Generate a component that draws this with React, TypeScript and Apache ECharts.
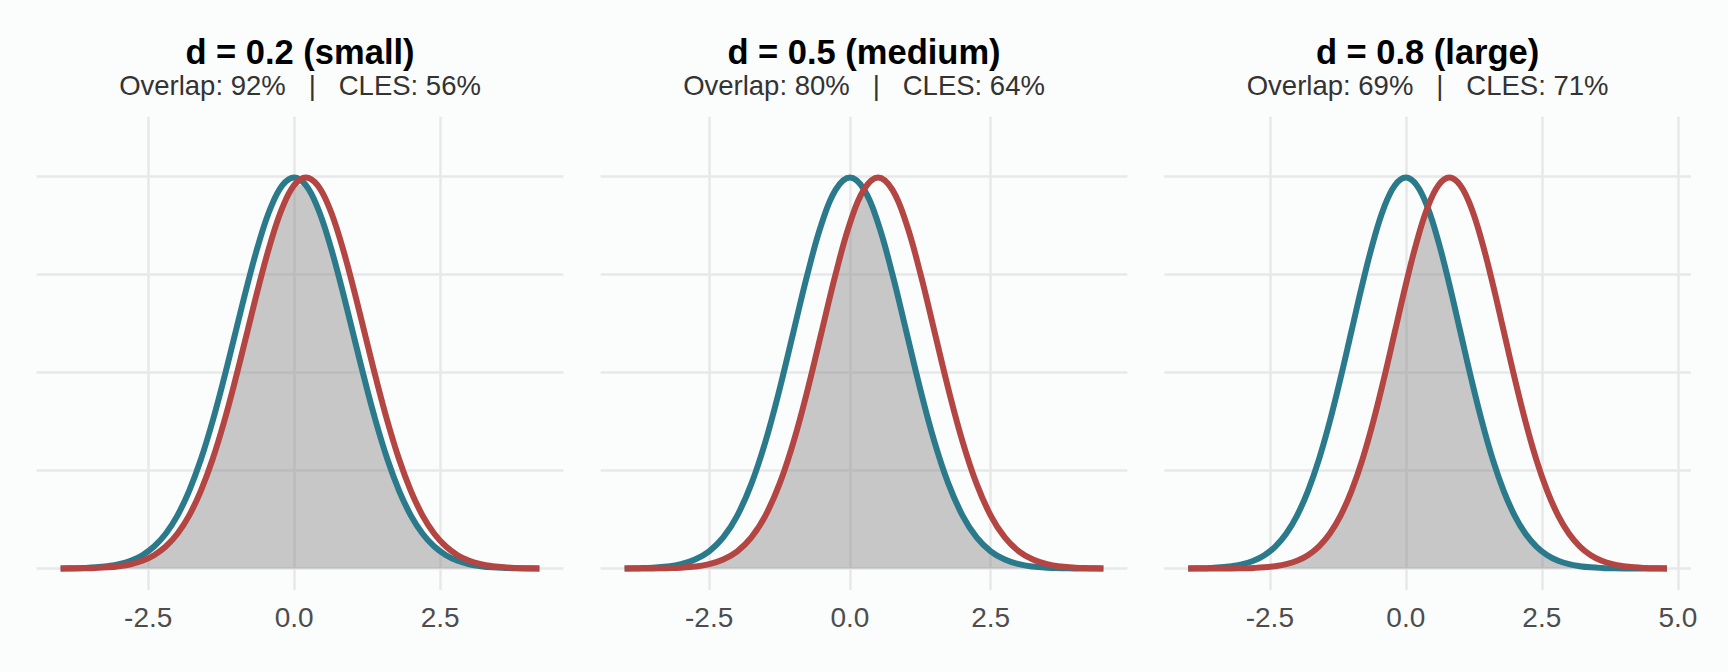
import React, { useEffect, useRef } from 'react';
import * as echarts from 'echarts';

// Panel headings
const panelTitles = ['d = 0.2 (small)', 'd = 0.5 (medium)', 'd = 0.8 (large)'];
const panelSubtitles = [
  'Overlap: 92%   |   CLES: 56%',
  'Overlap: 80%   |   CLES: 64%',
  'Overlap: 69%   |   CLES: 71%',
];

// x axis ranges (data range plus ggplot-style padding) and tick labels
const xRanges = [
  [-4.41, 4.61],
  [-4.425, 4.925],
  [-4.44, 5.24],
];
const xTicks = [
  [-2.5, 0, 2.5],
  [-2.5, 0, 2.5],
  [-2.5, 0, 2.5, 5],
];
const yTicks = [0, 0.1, 0.2, 0.3, 0.4];
const yRange = [-0.0219, 0.4608];

// d = 0.2
const x1 = [-4, -3.8, -3.6, -3.4, -3.2, -3, -2.8, -2.6, -2.4, -2.2, -2, -1.8, -1.6, -1.4, -1.2, -1, -0.8, -0.6, -0.4, -0.2,
  0, 0.2, 0.4, 0.6, 0.8, 1, 1.2, 1.4, 1.6, 1.8, 2, 2.2, 2.4, 2.6, 2.8, 3, 3.2, 3.4, 3.6, 3.8, 4, 4.2];
const blue1 = [0.0001, 0.0003, 0.0006, 0.0012, 0.0024, 0.0044, 0.0079, 0.0136, 0.0224, 0.0355, 0.0540, 0.0790, 0.1109, 0.1497, 0.1942, 0.2420, 0.2897, 0.3332, 0.3683, 0.3910,
  0.3989, 0.3910, 0.3683, 0.3332, 0.2897, 0.2420, 0.1942, 0.1497, 0.1109, 0.0790, 0.0540, 0.0355, 0.0224, 0.0136, 0.0079, 0.0044, 0.0024, 0.0012, 0.0006, 0.0003, 0.0001, 0.0001];
const red1 = [0.0001, 0.0001, 0.0003, 0.0006, 0.0012, 0.0024, 0.0044, 0.0079, 0.0136, 0.0224, 0.0355, 0.0540, 0.0790, 0.1109, 0.1497, 0.1942, 0.2420, 0.2897, 0.3332, 0.3683,
  0.3910, 0.3989, 0.3910, 0.3683, 0.3332, 0.2897, 0.2420, 0.1942, 0.1497, 0.1109, 0.0790, 0.0540, 0.0355, 0.0224, 0.0136, 0.0079, 0.0044, 0.0024, 0.0012, 0.0006, 0.0003, 0.0001];

// d = 0.5
const x2 = [-4, -3.75, -3.5, -3.25, -3, -2.75, -2.5, -2.25, -2, -1.75, -1.5, -1.25, -1, -0.75, -0.5, -0.25,
  0, 0.25, 0.5, 0.75, 1, 1.25, 1.5, 1.75, 2, 2.25, 2.5, 2.75, 3, 3.25, 3.5, 3.75, 4, 4.25, 4.5];
const blue2 = [0.0001, 0.0004, 0.0009, 0.0020, 0.0044, 0.0091, 0.0175, 0.0317, 0.0540, 0.0863, 0.1295, 0.1826, 0.2420, 0.3011, 0.3521, 0.3867,
  0.3989, 0.3867, 0.3521, 0.3011, 0.2420, 0.1826, 0.1295, 0.0863, 0.0540, 0.0317, 0.0175, 0.0091, 0.0044, 0.0020, 0.0009, 0.0004, 0.0001, 0.0000, 0.0000];
const red2 = [0.0000, 0.0000, 0.0001, 0.0004, 0.0009, 0.0020, 0.0044, 0.0091, 0.0175, 0.0317, 0.0540, 0.0863, 0.1295, 0.1826, 0.2420, 0.3011,
  0.3521, 0.3867, 0.3989, 0.3867, 0.3521, 0.3011, 0.2420, 0.1826, 0.1295, 0.0863, 0.0540, 0.0317, 0.0175, 0.0091, 0.0044, 0.0020, 0.0009, 0.0004, 0.0001];

// d = 0.8
const x3 = [-4, -3.8, -3.6, -3.4, -3.2, -3, -2.8, -2.6, -2.4, -2.2, -2, -1.8, -1.6, -1.4, -1.2, -1, -0.8, -0.6, -0.4, -0.2,
  0, 0.2, 0.4, 0.6, 0.8, 1, 1.2, 1.4, 1.6, 1.8, 2, 2.2, 2.4, 2.6, 2.8, 3, 3.2, 3.4, 3.6, 3.8, 4, 4.2, 4.4, 4.6, 4.8];
const blue3 = [0.0001, 0.0003, 0.0006, 0.0012, 0.0024, 0.0044, 0.0079, 0.0136, 0.0224, 0.0355, 0.0540, 0.0790, 0.1109, 0.1497, 0.1942, 0.2420, 0.2897, 0.3332, 0.3683, 0.3910,
  0.3989, 0.3910, 0.3683, 0.3332, 0.2897, 0.2420, 0.1942, 0.1497, 0.1109, 0.0790, 0.0540, 0.0355, 0.0224, 0.0136, 0.0079, 0.0044, 0.0024, 0.0012, 0.0006, 0.0003, 0.0001, 0.0001, 0.0000, 0.0000, 0.0000];
const red3 = [0.0000, 0.0000, 0.0000, 0.0001, 0.0001, 0.0003, 0.0006, 0.0012, 0.0024, 0.0044, 0.0079, 0.0136, 0.0224, 0.0355, 0.0540, 0.0790, 0.1109, 0.1497, 0.1942, 0.2420,
  0.2897, 0.3332, 0.3683, 0.3910, 0.3989, 0.3910, 0.3683, 0.3332, 0.2897, 0.2420, 0.1942, 0.1497, 0.1109, 0.0790, 0.0540, 0.0355, 0.0224, 0.0136, 0.0079, 0.0044, 0.0024, 0.0012, 0.0006, 0.0003, 0.0001];

const panels = [
  { x: x1, blue: blue1, red: red1 },
  { x: x2, blue: blue2, red: red2 },
  { x: x3, blue: blue3, red: red3 },
];

const BLUE = '#2B7A8B';
const RED = '#B34543';
const GRID = '#E8E8E8';
const FONT = '"Liberation Sans", Arial, Helvetica, sans-serif';

const App: React.FC = () => {
  const chartRef = useRef<HTMLDivElement>(null);

  useEffect(() => {
    document.body.style.margin = '0';
    if (!chartRef.current) return;
    const chart = echarts.init(chartRef.current, null, { renderer: 'svg' });

    const panelLefts = [36.7, 600.7, 1164.3];
    const panelWidth = 526.6;
    const panelTop = 116.7;
    const panelHeight = 473.3;

    const grids = panelLefts.map(left => ({
      left,
      top: panelTop,
      width: panelWidth,
      height: panelHeight,
    }));

    const xAxes = panels.map((_, i) => ({
      type: 'value',
      gridIndex: i,
      min: xRanges[i][0],
      max: xRanges[i][1],
      axisLine: { show: false },
      axisTick: { show: false, customValues: xTicks[i] },
      axisLabel: {
        customValues: xTicks[i],
        formatter: (v: number) => v.toFixed(1),
        color: '#4D4D4D',
        fontSize: 28,
        fontFamily: FONT,
        margin: 13,
      },
      splitLine: { show: true, lineStyle: { color: GRID, width: 2.5 } },
    }));

    const yAxes = panels.map((_, i) => ({
      type: 'value',
      gridIndex: i,
      min: yRange[0],
      max: yRange[1],
      axisLine: { show: false },
      axisTick: { show: false, customValues: yTicks },
      axisLabel: { show: false, customValues: yTicks },
      splitLine: { show: true, lineStyle: { color: GRID, width: 2.5 } },
    }));

    const series: any[] = [];
    panels.forEach((p, i) => {
      // shaded overlap = lower of the two densities
      series.push({
        type: 'line',
        xAxisIndex: i,
        yAxisIndex: i,
        data: p.x.map((v, k) => [v, Math.min(p.blue[k], p.red[k])]),
        smooth: 0.4,
        symbol: 'none',
        lineStyle: { width: 0 },
        areaStyle: { color: 'rgba(127,127,127,0.42)', opacity: 1 },
        z: 2,
      });
      series.push({
        type: 'line',
        xAxisIndex: i,
        yAxisIndex: i,
        data: p.x.map((v, k) => [v, p.blue[k]]),
        smooth: 0.4,
        symbol: 'none',
        lineStyle: { width: 6, color: BLUE },
        z: 3,
      });
      series.push({
        type: 'line',
        xAxisIndex: i,
        yAxisIndex: i,
        data: p.x.map((v, k) => [v, p.red[k]]),
        smooth: 0.4,
        symbol: 'none',
        lineStyle: { width: 6, color: RED },
        z: 4,
      });
    });

    const graphics: any[] = [];
    panelLefts.forEach((left, i) => {
      const cx = left + panelWidth / 2;
      graphics.push({
        type: 'text',
        x: cx,
        y: 51.5,
        style: {
          text: panelTitles[i],
          align: 'center',
          verticalAlign: 'middle',
          fontSize: 34.5,
          fontWeight: 'bold',
          fontFamily: FONT,
          fill: '#000000',
        },
      });
      graphics.push({
        type: 'text',
        x: cx,
        y: 85,
        style: {
          text: panelSubtitles[i],
          align: 'center',
          verticalAlign: 'middle',
          fontSize: 27.5,
          fontFamily: FONT,
          fill: '#333333',
        },
      });
    });

    chart.setOption({
      animation: false,
      backgroundColor: '#FBFCFC',
      grid: grids,
      xAxis: xAxes,
      yAxis: yAxes,
      series,
      graphic: graphics,
    });

    return () => {
      chart.dispose();
    };
  }, []);

  return <div ref={chartRef} style={{ width: '1728px', height: '672px', background: '#FBFCFC' }} />;
};

export default App;
